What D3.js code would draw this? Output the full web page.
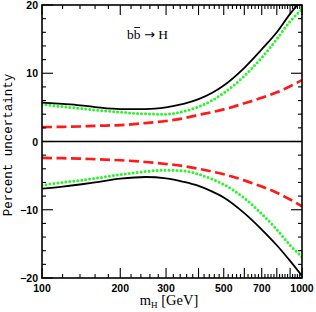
<!DOCTYPE html>
<html>
<head>
<meta charset="utf-8">
<script src="https://cdn.jsdelivr.net/npm/d3@7"></script>
<style>
  body { margin: 0; background: #fff; }
  svg { display: block; }
</style>
</head>
<body>
<div id="chart"></div>
<script>
var masses = [100, 120, 140, 160, 200, 250, 300, 350, 400, 450, 500, 600, 700, 800, 900, 1000];

// black solid (upper / lower)
var blackUp = [5.7, 5.5, 5.3, 5.05, 4.75, 4.75, 5.0, 5.5, 6.2, 7.1, 8.2, 10.8, 13.5, 16.0, 18.7, 20.8];
var blackDown = [-6.9, -6.6, -6.3, -6.0, -5.45, -5.2, -5.4, -5.9, -6.5, -7.3, -8.2, -10.5, -12.9, -15.2, -17.5, -19.7];

// green dotted
var greenUp = [5.45, 5.1, 4.85, 4.6, 4.3, 4.05, 4.0, 4.4, 5.1, 6.0, 7.1, 9.6, 12.3, 15.0, 17.6, 19.4];
var greenDown = [-6.4, -6.0, -5.7, -5.4, -4.85, -4.4, -4.2, -4.3, -4.8, -5.5, -6.3, -8.3, -10.6, -12.9, -15.2, -16.9];

// red dashed
var redUp = [2.1, 2.15, 2.2, 2.3, 2.4, 2.7, 3.0, 3.4, 3.9, 4.3, 4.7, 5.6, 6.4, 7.2, 8.1, 9.0];
var redDown = [-2.4, -2.45, -2.5, -2.6, -2.75, -3.0, -3.3, -3.6, -4.0, -4.4, -4.8, -5.7, -6.6, -7.5, -8.5, -9.5];

var xLabels = [100, 200, 300, 500, 700, 1000];
var yLabels = [20, 10, 0, -10, -20];

drawChart();

function drawChart(){
    var width = 316, height = 312;
    var pL = 42, pR = 302, pT = 5, pB = 278;

    var svg = d3.select("#chart")
        .append("svg")
        .attr("width", width)
        .attr("height", height);

    var x = d3.scaleLog().domain([100, 1000]).range([pL, pR]);
    var y = d3.scaleLinear().domain([-20, 20]).range([pB, pT]);

    svg.append("clipPath")
        .attr("id", "plot")
        .append("rect")
        .attr("x", pL).attr("y", pT)
        .attr("width", pR - pL).attr("height", pB - pT);

    // zero line
    svg.append("line")
        .attr("x1", pL).attr("x2", pR)
        .attr("y1", y(0)).attr("y2", y(0))
        .attr("stroke", "#000")
        .attr("stroke-width", 1.3);

    var line = d3.line()
        .x(function(d){ return x(d[0]); })
        .y(function(d){ return y(d[1]); })
        .curve(d3.curveMonotoneX);

    function drawCurve(values, color, w, dash, cap){
        svg.append("path")
            .datum(masses.map(function(m, i){ return [m, values[i]]; }))
            .attr("clip-path", "url(#plot)")
            .attr("d", line)
            .attr("fill", "none")
            .attr("stroke", color)
            .attr("stroke-width", w)
            .attr("stroke-dasharray", dash)
            .attr("stroke-linecap", cap);
    }

    drawCurve(redUp, "#ff1a1a", 2.7, "10 4.5", "butt");
    drawCurve(redDown, "#ff1a1a", 2.7, "10 4.5", "butt");
    drawCurve(greenUp, "#2af52a", 3, "0 4", "round");
    drawCurve(greenDown, "#2af52a", 3, "0 4", "round");
    drawCurve(blackUp, "#000", 1.8, null, "butt");
    drawCurve(blackDown, "#000", 1.8, null, "butt");

    // ticks on all four sides
    var xTicks = d3.range(100, 1001, 20);
    var yTicks = d3.range(-20, 21, 2);
    var ticks = svg.append("g").attr("stroke", "#000").attr("stroke-width", 1.1);

    xTicks.forEach(function(t){
        var len = t % 100 === 0 ? 10 : 4;
        ticks.append("line").attr("x1", x(t)).attr("x2", x(t)).attr("y1", pB).attr("y2", pB - len);
        ticks.append("line").attr("x1", x(t)).attr("x2", x(t)).attr("y1", pT).attr("y2", pT + len);
    });
    yTicks.forEach(function(t){
        var len = t % 10 === 0 ? 11 : 4;
        ticks.append("line").attr("x1", pL).attr("x2", pL + len).attr("y1", y(t)).attr("y2", y(t));
        ticks.append("line").attr("x1", pR).attr("x2", pR - len).attr("y1", y(t)).attr("y2", y(t));
    });

    // frame
    svg.append("rect")
        .attr("x", pL).attr("y", pT)
        .attr("width", pR - pL).attr("height", pB - pT)
        .attr("fill", "none")
        .attr("stroke", "#000")
        .attr("stroke-width", 1.6);

    // tick labels
    svg.append("g")
        .selectAll("text")
        .data(xLabels)
        .enter()
        .append("text")
        .attr("x", function(d){ return x(d); })
        .attr("y", 291.5)
        .attr("text-anchor", "middle")
        .attr("font-family", "Liberation Sans, Arial, sans-serif")
        .attr("font-weight", "bold")
        .attr("font-size", 10.5)
        .text(function(d){ return d; });

    svg.append("g")
        .selectAll("text")
        .data(yLabels)
        .enter()
        .append("text")
        .attr("x", 38)
        .attr("y", function(d){ return y(d) + 4; })
        .attr("text-anchor", "end")
        .attr("font-family", "Liberation Sans, Arial, sans-serif")
        .attr("font-weight", "bold")
        .attr("font-size", 10.5)
        .text(function(d){ return d < 0 ? "\u2212" + Math.abs(d) : d; });

    // axis titles
    svg.append("text")
        .attr("transform", "translate(12,145) rotate(-90)")
        .attr("text-anchor", "middle")
        .attr("font-family", "Liberation Mono, Courier New, monospace")
        .attr("font-size", 12.5)
        .text("Percent uncertainty");

    var xt = svg.append("text")
        .attr("x", 169)
        .attr("y", 305)
        .attr("text-anchor", "middle")
        .attr("font-family", "Liberation Serif, Times New Roman, serif")
        .attr("font-size", 14.5);
    xt.append("tspan").text("m");
    xt.append("tspan").attr("font-size", 9).attr("dy", 3).text("H");
    xt.append("tspan").attr("dy", -3).text(" [GeV]");

    // process label, with a bar over the second b
    var lab = svg.append("text")
        .attr("x", 127)
        .attr("y", 39)
        .attr("font-family", "Liberation Serif, Times New Roman, serif")
        .attr("font-size", 13.5);
    lab.append("tspan").text("b");
    var bbar = lab.append("tspan").text("b");
    lab.append("tspan").text(" ");
    lab.append("tspan").attr("font-family", "DejaVu Sans, sans-serif").attr("font-size", 13).text("\u2192");
    lab.append("tspan").text(" H");

    var bw = bbar.node().getComputedTextLength();
    var bx = 127 + bw;
    svg.append("line")
        .attr("x1", bx + 0.5).attr("x2", bx + bw - 0.5)
        .attr("y1", 27.5).attr("y2", 27.5)
        .attr("stroke", "#000")
        .attr("stroke-width", 0.9);
}
</script>
</body>
</html>
